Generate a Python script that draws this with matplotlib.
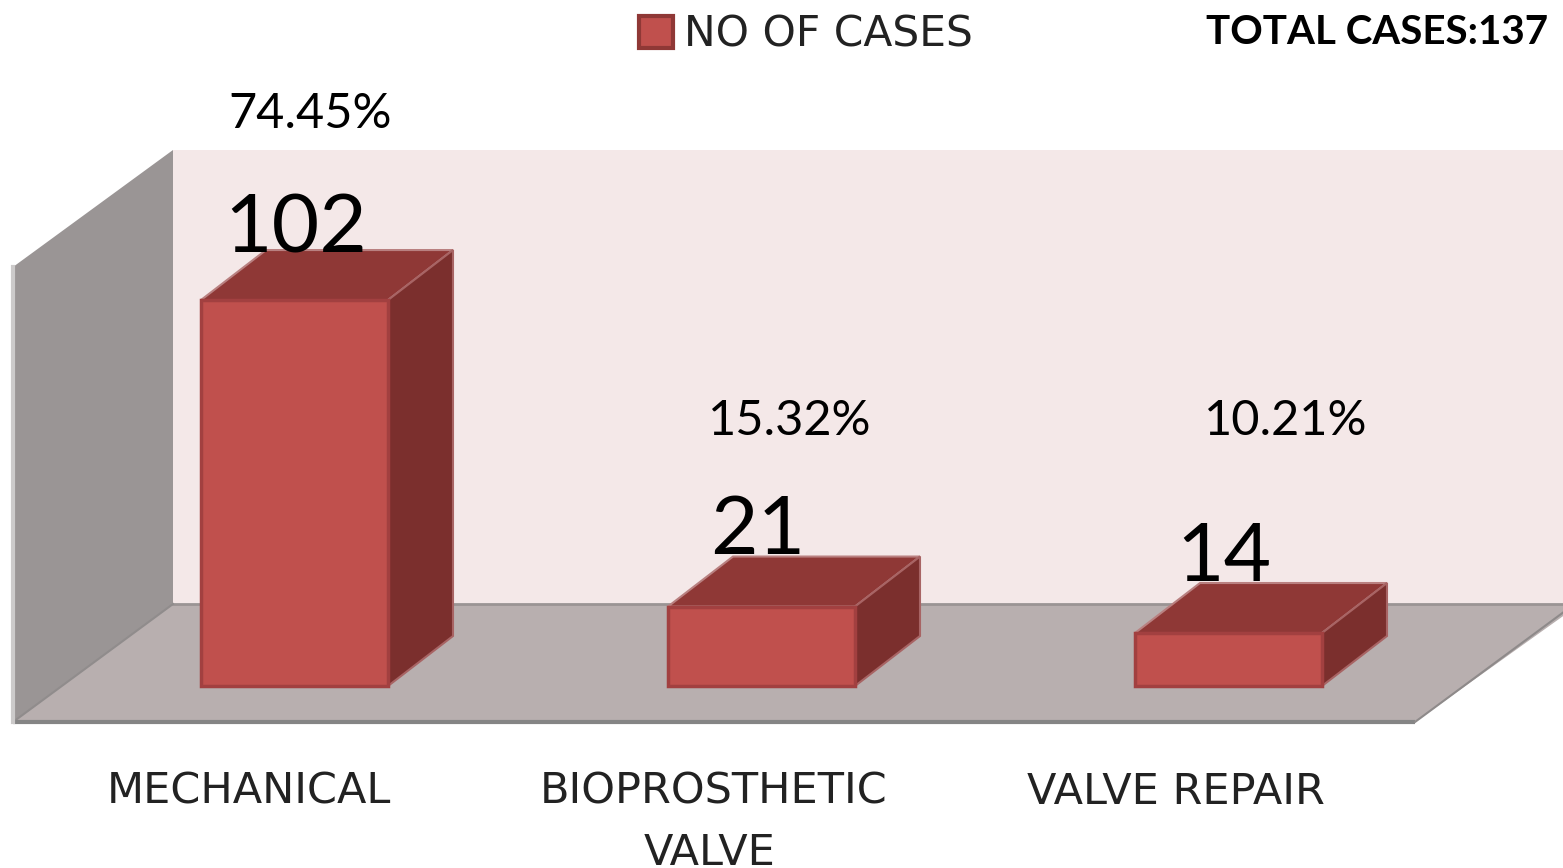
#!/usr/bin/env python3
# -*- coding: utf-8 -*-
import matplotlib
matplotlib.use('Agg')
import matplotlib.pyplot as plt
from matplotlib.patches import Polygon, Patch

categories = ['MECHANICAL', 'BIOPROSTHETIC', 'VALVE REPAIR']
category_extra = 'VALVE'
cases = [102, 21, 14]
percents = ['74.45%', '15.32%', '10.21%']
series_name = 'NO OF CASES'
total_label = 'TOTAL CASES:137'

W, H = 1563, 868
X0, DX = 294.5, 467.0    # pixel of first bar centre, pixels per category
Y0, DY = 686.0, 3.784    # pixel of baseline, pixels per case
BAR_W = 187 / DX
DEPTH_X = 65 / DX
DEPTH_Y = 50 / DY


def px(x, y):
    # picture pixels to data coordinates
    return (x - X0) / DX, (Y0 - y) / DY


fig = plt.figure(figsize=(W / 100, H / 100), dpi=100)
ax = fig.add_axes([0, 0, 1, 1])
ax.set_xlim(px(0, 0)[0], px(W, 0)[0])
ax.set_ylim(px(0, H)[1], px(0, 0)[1])
ax.axis('off')

# chart box
back = [px(173, 150), px(1580, 150), px(1580, 604), px(173, 604)]
left = [px(13, 267), px(173, 150), px(173, 604), px(13, 722)]
floor = [px(13, 722), px(173, 604), px(1580, 604), px(1415, 722)]
ax.add_patch(Polygon(back, fc='#F4E8E8', ec='none', zorder=1))
ax.add_patch(Polygon(left, fc='#9A9595', ec='none', zorder=1))
ax.add_patch(Polygon(floor, fc='#B8AFAF', ec='none', zorder=1))
ax.plot(*zip(px(173, 604), px(1580, 604)), c='#9A9494', lw=2, zorder=2)
ax.plot(*zip(px(13, 722), px(173, 604)), c='#908C8C', lw=1.5, zorder=2)
ax.plot(*zip(px(13, 722), px(1415, 722)), c='#858585', lw=3, zorder=2, solid_capstyle='butt')
ax.plot(*zip(px(1415, 722), px(1580, 600)), c='#8E8A8A', lw=1.5, zorder=2)
ax.plot(*zip(px(13, 267), px(13, 722)), c='#CCCACA', lw=3, zorder=2)

# bars
for i, v in enumerate(cases):
    l, r = i - BAR_W / 2, i + BAR_W / 2
    top = [(l, v), (r, v), (r + DEPTH_X, v + DEPTH_Y), (l + DEPTH_X, v + DEPTH_Y)]
    side = [(r, 0), (r + DEPTH_X, DEPTH_Y), (r + DEPTH_X, v + DEPTH_Y), (r, v)]
    ax.add_patch(Polygon(top, fc='#8F3836', ec='#B98080', lw=1.5, zorder=3))
    ax.add_patch(Polygon(side, fc='#7B2F2D', ec='#A86464', lw=1.5, zorder=3))
    ax.bar(i, v, BAR_W, color='#C0504D', edgecolor='#A24040', lw=2.5, zorder=4)

# value labels sit on the back edge of each bar top
value_dx = [1.5, -3.5, -4.5]
value_dy = [2, -3, -2]
for i, v in enumerate(cases):
    ax.text(i + value_dx[i] / DX, v + DEPTH_Y - value_dy[i] / DY, str(v), fontsize=59,
            family='Lato', ha='center', va='baseline', color='black', zorder=5)

pct_pos = [(310, 128), (790, 435), (1286, 435)]
for (x, y), p in zip(pct_pos, percents):
    ax.text(*px(x, y), p, fontsize=35, family='Lato', ha='center', va='baseline', color='black')

# category labels
lab_x = [249, 714, 1176]
for x, c in zip(lab_x, categories):
    ax.text(*px(x, 804), c, fontsize=31, family='DejaVu Sans', ha='center', va='baseline',
            color='#222222')
ax.text(*px(710, 865), category_extra, fontsize=31, family='DejaVu Sans', ha='center',
        va='baseline', color='#222222')

ax.text(*px(1548, 44), total_label, fontsize=29, family='Lato', weight='bold',
        ha='right', va='baseline', color='black')

leg = ax.legend(handles=[Patch(fc='#C0504D', ec='#8F3836', lw=3, label=series_name)],
                loc='upper left', bbox_to_anchor=(631 / W, 1 - 5 / H), frameon=False,
                prop={'family': 'DejaVu Sans', 'size': 30.5}, handlelength=0.8, handleheight=0.8,
                handletextpad=0.25, borderaxespad=0, borderpad=0.2, labelcolor='#222222')

fig.savefig('out.png', dpi=100)
